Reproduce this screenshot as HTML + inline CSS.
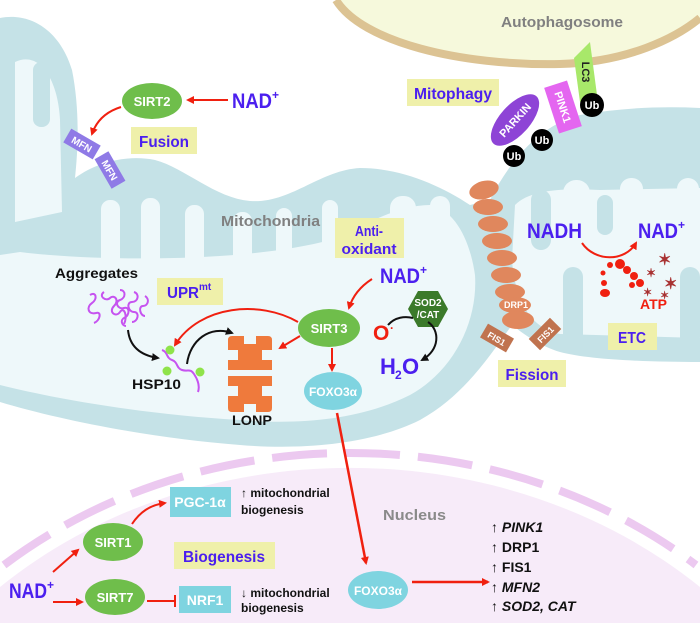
<!DOCTYPE html>
<html><head><meta charset="utf-8"><style>
html,body{margin:0;padding:0;background:#fff;width:700px;height:623px;overflow:hidden;}
svg{display:block;font-family:"Liberation Sans",sans-serif;font-weight:bold;}
</style></head><body>
<svg width="700" height="623" viewBox="0 0 700 623" xmlns="http://www.w3.org/2000/svg" overflow="hidden">
<defs>
<marker id="ar" markerWidth="8" markerHeight="8" refX="6" refY="4" orient="auto" markerUnits="userSpaceOnUse"><path d="M0,0 L8,4 L0,8 Z" fill="#f02010"/></marker>
<marker id="ak" markerWidth="8" markerHeight="8" refX="6" refY="4" orient="auto" markerUnits="userSpaceOnUse"><path d="M0,0 L8,4 L0,8 Z" fill="#111"/></marker>
</defs>
<rect width="700" height="623" fill="#fff"/>
<path d="M336,0 C362,42 460,66 560,64 C628,62 676,38 700,18 L700,0 Z" fill="#f6f9dc"/>
<path d="M336,0 C362,42 460,66 560,64 C628,62 676,38 700,18" fill="none" stroke="#dcc393" stroke-width="8"/>
<text x="562" y="27" font-size="15" fill="#808080" text-anchor="middle" textLength="122" lengthAdjust="spacingAndGlyphs">Autophagosome</text>
<path d="M0,587 A510,437 0 0 1 700,587 L700,623 L0,623 Z" fill="#f7ebf9"/>
<path d="M4,565 A523,448 0 0 1 696,565" fill="none" stroke="#ecc9f0" stroke-width="8" stroke-dasharray="55 18"/>
<path d="M0,18 C30,12 60,30 72,70 C80,110 78,150 75,178 C100,160 130,155 155,160 C185,168 215,198 250,201 C290,204 320,170 360,168 C400,168 440,185 470,205 L490,200 C510,160 540,125 580,115 C620,108 660,106 700,108 L700,362 C650,362 590,360 560,352 C540,346 525,335 512,325 C490,355 465,395 420,420 C370,445 300,450 240,445 C150,438 60,420 0,402 Z" fill="#c5e2e7"/>
<path d="M15,62 C40,50 58,80 60,120 L62,212 L15,222 Z" fill="#eef8fa"/>
<rect x="33" y="62" width="17" height="65" rx="8" fill="#c5e2e7"/>
<path d="M0,255 L20,252 C100,262 250,262 330,240 C370,222 400,205 430,205 C455,210 470,240 475,275 C478,320 455,370 410,395 C360,420 300,425 240,420 C150,415 60,400 0,385 Z" fill="#eef8fa"/>
<g fill="#eef8fa">
<rect x="101" y="200" width="19" height="70" rx="9"/>
<rect x="141" y="198" width="19" height="70" rx="9"/>
<rect x="185" y="205" width="19" height="70" rx="9"/>
<rect x="233" y="212" width="19" height="60" rx="9"/>
<rect x="276" y="208" width="16" height="60" rx="8"/>
<rect x="322" y="200" width="16" height="60" rx="8"/>
<rect x="390" y="196" width="26" height="40" rx="12"/>
<rect x="430" y="196" width="20" height="40" rx="10"/>
</g>
<path d="M515,205 C530,190 560,188 600,190 L700,188 L700,338 L560,334 C530,328 515,300 512,260 Z" fill="#eef8fa"/>
<g fill="#eef8fa">
<rect x="563" y="180" width="27" height="40" rx="13"/>
<rect x="620" y="178" width="23" height="40" rx="11"/>
<rect x="677" y="178" width="22" height="40" rx="11"/>
</g>
<g fill="#c5e2e7">
<rect x="531" y="190" width="20" height="60" rx="10"/>
<rect x="597" y="195" width="16" height="40" rx="8"/>
<rect x="563" y="267" width="20" height="80" rx="10"/>
<rect x="680" y="267" width="20" height="80" rx="10"/>
</g>
<text x="221" y="226" font-size="15" fill="#808080" textLength="99" lengthAdjust="spacingAndGlyphs">Mitochondria</text>
<g fill="#eff0aa">
<rect x="407" y="79" width="92" height="27"/>
<rect x="131" y="127" width="66" height="27"/>
<rect x="335" y="218" width="69" height="40"/>
<rect x="157" y="278" width="66" height="27"/>
<rect x="608" y="323" width="49" height="27"/>
<rect x="498" y="360" width="68" height="27"/>
<rect x="174" y="542" width="101" height="27"/>
</g>
<g fill="#4b1fef" font-size="16">
<text x="453" y="99" text-anchor="middle" textLength="78" lengthAdjust="spacingAndGlyphs">Mitophagy</text>
<text x="164" y="147" text-anchor="middle" textLength="50" lengthAdjust="spacingAndGlyphs">Fusion</text>
<text x="369" y="236" text-anchor="middle" font-size="15" textLength="28" lengthAdjust="spacingAndGlyphs">Anti-</text>
<text x="369" y="254" text-anchor="middle" font-size="15" textLength="55" lengthAdjust="spacingAndGlyphs">oxidant</text>
<text x="167" y="298" textLength="32" lengthAdjust="spacingAndGlyphs">UPR</text><text x="199" y="290" font-size="10">mt</text>
<text x="632" y="343" text-anchor="middle" textLength="28" lengthAdjust="spacingAndGlyphs">ETC</text>
<text x="532" y="380" text-anchor="middle" textLength="53" lengthAdjust="spacingAndGlyphs">Fission</text>
<text x="224" y="562" text-anchor="middle" textLength="82" lengthAdjust="spacingAndGlyphs">Biogenesis</text>
</g>
<g fill="#4b1fef" font-size="21">
<text x="232" y="108" textLength="40" lengthAdjust="spacingAndGlyphs">NAD</text><text x="272" y="99" font-size="12">+</text>
<text x="380" y="283" textLength="40" lengthAdjust="spacingAndGlyphs">NAD</text><text x="420" y="274" font-size="12">+</text>
<text x="527" y="238" textLength="55" lengthAdjust="spacingAndGlyphs">NADH</text>
<text x="638" y="238" textLength="40" lengthAdjust="spacingAndGlyphs">NAD</text><text x="678" y="229" font-size="12">+</text>
<text x="9" y="598" textLength="38" lengthAdjust="spacingAndGlyphs">NAD</text><text x="47" y="589" font-size="12">+</text>
<text x="380" y="374" font-size="22">H</text><text x="395" y="379" font-size="12">2</text><text x="402" y="374" font-size="22">O</text>
</g>
<text x="373" y="340" font-size="21" fill="#f02010">O</text><text x="390" y="332" font-size="12" fill="#f02010">·</text>
<path d="M574,58 L590,42 L597,95 L580,102 Z" fill="#a8e86a"/>
<text transform="translate(582,72) rotate(90)" font-size="11" fill="#222" text-anchor="middle">LC3</text>
<g transform="translate(563,107) rotate(-18)"><rect x="-12" y="-24" width="24" height="48" fill="#e466f0"/>
<text transform="rotate(90)" font-size="11" fill="#fff" text-anchor="middle" y="4">PINK1</text></g>
<g transform="translate(515,120) rotate(-48)"><ellipse rx="32" ry="15" fill="#8e44d6"/><text font-size="11" fill="#fff" text-anchor="middle" y="4">PARKIN</text></g>
<g fill="#000"><circle cx="592" cy="105" r="12"/><circle cx="542" cy="140" r="11"/><circle cx="514" cy="156" r="11"/></g>
<g fill="#fff" font-size="11" text-anchor="middle"><text x="592" y="109">Ub</text><text x="542" y="144">Ub</text><text x="514" y="160">Ub</text></g>
<ellipse cx="152" cy="101" rx="30" ry="18" fill="#6fbe4b"/>
<text x="152" y="106" font-size="13" fill="#fff" text-anchor="middle">SIRT2</text>
<line x1="228" y1="100" x2="188" y2="100" stroke="#f02010" stroke-width="2" marker-end="url(#ar)"/>
<path d="M121,107 C105,112 96,122 92,134" fill="none" stroke="#f02010" stroke-width="2" marker-end="url(#ar)"/>
<g transform="translate(82,144) rotate(30)"><rect x="-17" y="-8" width="34" height="16" fill="#8f7ae6"/><text y="4" font-size="10" fill="#fff" text-anchor="middle">MFN</text></g>
<g transform="translate(110,170) rotate(60)"><rect x="-17" y="-8" width="34" height="16" fill="#8f7ae6"/><text y="4" font-size="10" fill="#fff" text-anchor="middle">MFN</text></g>
<g fill="#e0875d">
<ellipse cx="484" cy="190" rx="15" ry="9" transform="rotate(-15 484 190)"/>
<ellipse cx="488" cy="207" rx="15" ry="8"/>
<ellipse cx="493" cy="224" rx="15" ry="8"/>
<ellipse cx="497" cy="241" rx="15" ry="8"/>
<ellipse cx="502" cy="258" rx="15" ry="8"/>
<ellipse cx="506" cy="275" rx="15" ry="8"/>
<ellipse cx="510" cy="292" rx="15" ry="8"/>
<ellipse cx="515" cy="305" rx="16" ry="8"/>
<ellipse cx="518" cy="320" rx="16" ry="9"/>
</g>
<text x="516" y="308" font-size="9" fill="#fff" text-anchor="middle">DRP1</text>
<g transform="translate(497,338) rotate(30)"><rect x="-15" y="-8" width="30" height="16" fill="#c0734f"/><text y="4" font-size="9" fill="#fff" text-anchor="middle">FIS1</text></g>
<g transform="translate(545,334) rotate(-45)"><rect x="-15" y="-8" width="30" height="16" fill="#c0734f"/><text y="4" font-size="9" fill="#fff" text-anchor="middle">FIS1</text></g>
<path d="M582,243 C595,262 625,262 636,243" fill="none" stroke="#f02010" stroke-width="2" marker-end="url(#ar)"/>
<g fill="#f02010"><circle cx="620" cy="264" r="5"/><circle cx="627" cy="270" r="4"/><circle cx="610" cy="265" r="3"/><circle cx="603" cy="273" r="2.5"/><circle cx="604" cy="283" r="3"/><ellipse cx="605" cy="293" rx="5" ry="4"/><circle cx="634" cy="276" r="4"/><circle cx="640" cy="283" r="4"/><circle cx="632" cy="285" r="3"/></g>
<g fill="#a83232" font-size="16"><text x="658" y="265">✶</text><text x="646" y="277" font-size="12">✶</text><text x="664" y="289">✶</text><text x="643" y="296" font-size="11">✶</text><text x="660" y="299" font-size="11">✶</text></g>
<text x="640" y="309" font-size="14" fill="#f02010">ATP</text>
<path d="M372,279 C358,288 352,298 349,308" fill="none" stroke="#f02010" stroke-width="2" marker-end="url(#ar)"/>
<ellipse cx="329" cy="328" rx="31" ry="19" fill="#6fbe4b"/>
<text x="329" y="333" font-size="13" fill="#fff" text-anchor="middle">SIRT3</text>
<line x1="332" y1="348" x2="332" y2="370" stroke="#f02010" stroke-width="2" marker-end="url(#ar)"/>
<ellipse cx="333" cy="391" rx="29" ry="19" fill="#7fd4e0"/>
<text x="333" y="396" font-size="12" fill="#fff" text-anchor="middle">FOXO3α</text>
<path d="M298,322 C260,300 200,305 175,345" fill="none" stroke="#f02010" stroke-width="2" marker-end="url(#ar)"/>
<line x1="300" y1="336" x2="280" y2="348" stroke="#f02010" stroke-width="2" marker-end="url(#ar)"/>
<polygon points="418,291 438,291 448,309 438,327 418,327 408,309" fill="#3b7a2a"/>
<text x="428" y="306" font-size="10" fill="#fff" text-anchor="middle">SOD2</text>
<text x="428" y="318" font-size="10" fill="#fff" text-anchor="middle">/CAT</text>
<path d="M388,325 C395,317 405,316 413,318 M428,322 C440,330 440,350 422,360" fill="none" stroke="#111" stroke-width="2" marker-end="url(#ak)"/>
<g fill="#ef7a3c">
<path d="M228,340 Q228,336 232,336 L244,336 L244,344 L256,344 L256,336 L268,336 Q272,336 272,340 L272,350 L262,350 L262,360 L272,360 L272,370 L228,370 L228,360 L238,360 L238,350 L228,350 Z"/>
<path d="M228,376 L272,376 L272,386 L262,386 L262,396 L272,396 L272,408 Q272,412 268,412 L256,412 L256,404 L244,404 L244,412 L232,412 Q228,412 228,408 L228,396 L238,396 L238,386 L228,386 Z"/>
</g>
<text x="232" y="425" font-size="14" fill="#111" textLength="40" lengthAdjust="spacingAndGlyphs">LONP</text>
<text x="55" y="278" font-size="14" fill="#111" textLength="83" lengthAdjust="spacingAndGlyphs">Aggregates</text>
<g fill="none" stroke="#c653f0" stroke-width="2">
<path d="M90,295 c6,-4 8,4 2,8 c-6,4 -4,12 4,10 c6,-2 4,8 -2,10"/>
<path d="M104,292 c-6,4 2,10 6,6 c4,-4 10,2 4,8 c-6,6 2,12 6,6 c4,-6 8,4 4,12"/>
<path d="M120,290 c6,0 6,8 0,10 c-6,2 -2,10 4,8 c6,-2 6,8 0,10 c-4,2 -2,8 2,8"/>
<path d="M134,292 c6,2 4,10 -2,10 c-6,0 -4,10 2,10 c6,0 4,10 -2,10"/>
<path d="M145,296 c5,3 3,10 -2,10 c-5,0 -3,10 2,10"/>
<path d="M162,350 c6,2 4,8 10,10 c6,2 4,8 10,10 c6,2 8,-2 12,4 c4,6 6,12 4,18"/>
</g>
<g fill="#8fe34a"><circle cx="170" cy="350" r="4.5"/><circle cx="167" cy="371" r="4.5"/><circle cx="200" cy="372" r="4.5"/></g>
<text x="132" y="389" font-size="14" fill="#111" textLength="49" lengthAdjust="spacingAndGlyphs">HSP10</text>
<path d="M128,330 C130,350 145,356 158,358" fill="none" stroke="#111" stroke-width="2" marker-end="url(#ak)"/>
<path d="M187,364 C190,340 210,325 232,333" fill="none" stroke="#111" stroke-width="2" marker-end="url(#ak)"/>
<line x1="337" y1="413" x2="366" y2="563" stroke="#f02010" stroke-width="2.5" marker-end="url(#ar)"/>
<text x="383" y="520" font-size="15" fill="#8a8a8a" textLength="63" lengthAdjust="spacingAndGlyphs">Nucleus</text>
<rect x="170" y="487" width="61" height="30" fill="#7fd4e0"/>
<text x="200" y="507" font-size="14" fill="#fff" text-anchor="middle">PGC-1α</text>
<rect x="179" y="586" width="52" height="27" fill="#7fd4e0"/>
<text x="205" y="605" font-size="14" fill="#fff" text-anchor="middle">NRF1</text>
<g font-size="12" fill="#111">
<text x="241" y="497">↑ mitochondrial</text><text x="241" y="514">biogenesis</text>
<text x="241" y="597">↓ mitochondrial</text><text x="241" y="612">biogenesis</text>
</g>
<ellipse cx="113" cy="542" rx="30" ry="19" fill="#6fbe4b"/>
<text x="113" y="547" font-size="13" fill="#fff" text-anchor="middle">SIRT1</text>
<ellipse cx="115" cy="597" rx="30" ry="18" fill="#6fbe4b"/>
<text x="115" y="602" font-size="13" fill="#fff" text-anchor="middle">SIRT7</text>
<line x1="53" y1="572" x2="78" y2="550" stroke="#f02010" stroke-width="2" marker-end="url(#ar)"/>
<line x1="53" y1="602" x2="82" y2="602" stroke="#f02010" stroke-width="2" marker-end="url(#ar)"/>
<path d="M132,524 C140,512 150,505 165,503" fill="none" stroke="#f02010" stroke-width="2" marker-end="url(#ar)"/>
<line x1="147" y1="601" x2="175" y2="601" stroke="#f02010" stroke-width="2"/>
<line x1="175" y1="595" x2="175" y2="607" stroke="#f02010" stroke-width="2"/>
<ellipse cx="378" cy="590" rx="30" ry="19" fill="#7fd4e0"/>
<text x="378" y="595" font-size="12" fill="#fff" text-anchor="middle">FOXO3α</text>
<line x1="412" y1="582" x2="488" y2="582" stroke="#f02010" stroke-width="2.5" marker-end="url(#ar)"/>
<g font-size="14" fill="#111">
<text x="491" y="532">↑ <tspan font-style="italic">PINK1</tspan></text>
<text x="491" y="552">↑ DRP1</text>
<text x="491" y="572">↑ FIS1</text>
<text x="491" y="592">↑ <tspan font-style="italic">MFN2</tspan></text>
<text x="491" y="611">↑ <tspan font-style="italic">SOD2, CAT</tspan></text>
</g>
</svg>
</body></html>
